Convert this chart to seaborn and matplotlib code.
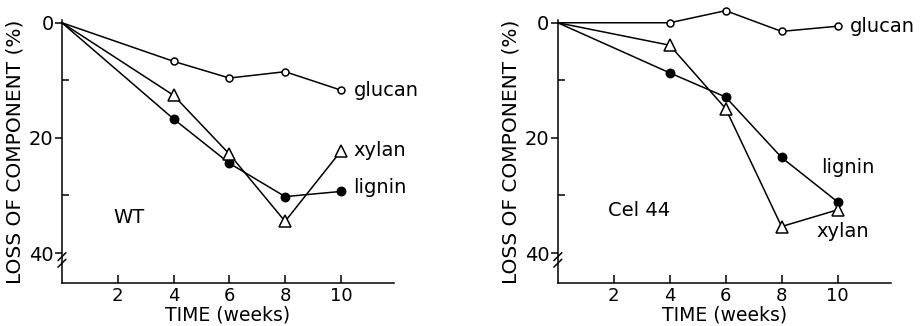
import numpy as np
import pandas as pd
import matplotlib as mpl
mpl.use('Agg')
import matplotlib.pyplot as plt
import seaborn as sns

weeks = [0, 4, 6, 8, 10]

wt_glucan = [0, 6.7, 9.6, 8.5, 11.7]
wt_xylan = [0, 12.6, 22.8, 34.5, 22.3]
wt_lignin = [0, 16.7, 24.4, 30.2, 29.3]

cel_glucan = [0, 0.0, -2.1, 1.5, 0.6]
cel_xylan = [0, 3.9, 14.9, 35.4, 32.5]
cel_lignin = [0, 8.7, 12.9, 23.4, 31.1]

panel_names = ['WT', 'Cel 44']

sns.set_style('ticks', {'axes.edgecolor': 'black', 'text.color': 'black',
                        'axes.labelcolor': 'black', 'xtick.color': 'black',
                        'ytick.color': 'black'})
plt.rcParams['font.family'] = ['DejaVu Sans']

fig = plt.figure(figsize=(9.22, 3.26), dpi=100)
ax1 = fig.add_axes([0.0672, 0.132, 0.360, 0.807])
ax2 = fig.add_axes([0.605, 0.132, 0.361, 0.807])

series_style = {
    'glucan': dict(marker='o', markersize=5, markerfacecolor='white'),
    'xylan': dict(marker='^', markersize=8.5, markerfacecolor='white'),
    'lignin': dict(marker='o', markersize=6, markerfacecolor='black'),
}

panels = [
    (ax1, {'glucan': wt_glucan, 'xylan': wt_xylan, 'lignin': wt_lignin}),
    (ax2, {'glucan': cel_glucan, 'xylan': cel_xylan, 'lignin': cel_lignin}),
]

fs = 14

for ax, data in panels:
    for name in ['glucan', 'lignin', 'xylan']:
        df = pd.DataFrame({'weeks': weeks, 'loss': data[name]})
        sns.lineplot(data=df, x='weeks', y='loss', ax=ax, color='black',
                     linewidth=1.1, markeredgecolor='black', markeredgewidth=1.1,
                     markevery=[1, 2, 3, 4], clip_on=False, zorder=3,
                     **series_style[name])
    ax.set_xlim(0, 11.9)
    ax.set_ylim(45.2, -0.5)
    ax.set_xticks([2, 4, 6, 8, 10])
    ax.set_yticks([0, 20, 40])
    ax.set_yticks([10, 30], minor=True)
    ax.tick_params(axis='x', direction='in', length=6, width=1.1, pad=3, labelsize=13)
    ax.tick_params(axis='y', which='major', direction='out', length=5, width=1.1,
                   pad=1, labelsize=fs)
    ax.tick_params(axis='y', which='minor', direction='in', length=5, width=1.1)
    for s in ['top', 'right']:
        ax.spines[s].set_visible(False)
    for s in ['left', 'bottom']:
        ax.spines[s].set_linewidth(1.1)
    ax.set_xlabel('TIME (weeks)', fontsize=13.5, labelpad=0)
    ax.set_ylabel('LOSS OF COMPONENT (%)', fontsize=fs + 0.5, labelpad=3)
    # axis break mark
    for dy in [0.0, 0.025]:
        ax.plot([-0.012, 0.012], [0.06 + dy, 0.09 + dy], transform=ax.transAxes,
                color='black', lw=1.1, clip_on=False)

ax1.text(10.45, 11.7, 'glucan', fontsize=fs, va='center', ha='left')
ax1.text(10.45, 22.2, 'xylan', fontsize=fs, va='center', ha='left')
ax1.text(10.45, 28.6, 'lignin', fontsize=fs, va='center', ha='left')
ax1.text(1.86, 33.9, panel_names[0], fontsize=fs, va='center', ha='left')

ax2.text(10.45, 0.6, 'glucan', fontsize=fs, va='center', ha='left')
ax2.text(9.4, 25.1, 'lignin', fontsize=fs, va='center', ha='left')
ax2.text(9.26, 36.2, 'xylan', fontsize=fs, va='center', ha='left')
ax2.text(1.8, 32.6, panel_names[1], fontsize=fs, va='center', ha='left')

fig.savefig('out.png', dpi=100)
